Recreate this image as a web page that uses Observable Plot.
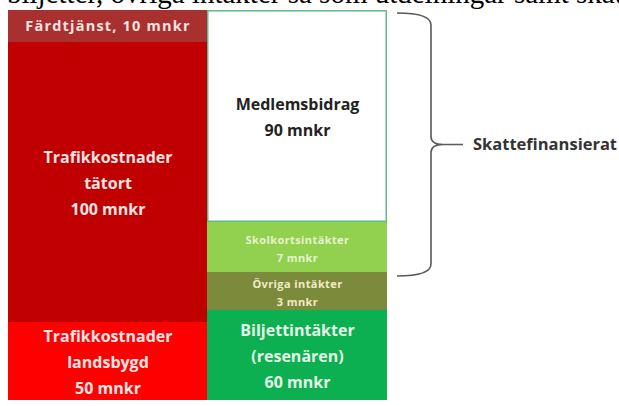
<!DOCTYPE html>
<html>
<head>
<meta charset="utf-8">
<script src="https://cdn.jsdelivr.net/npm/d3@7"></script>
<script src="https://cdn.jsdelivr.net/npm/@observablehq/plot@0.6"></script>
<style>
  html, body { margin: 0; padding: 0; background: #fff; }
  #chart { width: 619px; height: 406px; overflow: hidden; }
</style>
</head>
<body>
<div id="chart"></div>
<script>
// ---- data ----
const costCategories = ["Färdtjänst", "Trafikkostnader tätort", "Trafikkostnader landsbygd"];
const costValues = [10, 100, 50];
const costLabels = ["Färdtjänst, 10 mnkr", "Trafikkostnader\ntätort\n100 mnkr", "Trafikkostnader\nlandsbygd\n50 mnkr"];
const costColors = ["#a8312f", "#c00000", "#ff0000"];

const incomeCategories = ["Medlemsbidrag", "Skolkortsintäkter", "Övriga intäkter", "Biljettintäkter (resenären)"];
const incomeValues = [90, 7, 3, 60];
const incomeLabels = ["Medlemsbidrag\n90 mnkr", "Skolkortsintäkter\n7 mnkr", "Övriga intäkter\n3 mnkr", "Biljettintäkter\n(resenären)\n60 mnkr"];
const incomeColors = ["#ffffff", "#92d050", "#7c8a3c", "#0db050"];

const taxFinanced = ["Medlemsbidrag", "Skolkortsintäkter"];
const braceLabel = "Skattefinansierat";
const topText = "biljetter, övriga intäkter så som utdelningar samt skattemedel";

// ---- scales (schematic, not to scale: piecewise y) ----
const yDomain = [0, 10, 90, 97, 100, 110, 160];
const yRange = [10, 42, 222, 272, 310, 322, 400];
const yHelper = d3.scaleLinear().domain(yDomain).range(yRange);
const pixelMid = d => yHelper.invert((yHelper(d.y1) + yHelper(d.y2)) / 2);

// ---- build stacked table ----
function stack(cats, vals, labels, colors, col, kind) {
  let acc = 0;
  return cats.map((c, i) => {
    const r = {category: c, value: vals[i], label: labels[i], color: colors[i], col, kind, y1: acc, y2: acc + vals[i]};
    acc += vals[i];
    return r;
  });
}
const rows = [
  ...stack(costCategories, costValues, costLabels, costColors, 0, "cost"),
  ...stack(incomeCategories, incomeValues, incomeLabels, incomeColors, 1, "income")
];
const small = new Set(["Skolkortsintäkter", "Övriga intäkter"]);
const bigRows = rows.filter(d => !small.has(d.category) && d.category !== "Färdtjänst");
const headRows = rows.filter(d => d.category === "Färdtjänst");
const smallRows = rows.filter(d => small.has(d.category));
const taxRows = rows.filter(d => taxFinanced.includes(d.category));
const taxTop = d3.min(taxRows, d => d.y1), taxBottom = d3.max(taxRows, d => d.y2);

const textColor = {
  "Färdtjänst": "#f3e2e2",
  "Trafikkostnader tätort": "#f6e4e4",
  "Trafikkostnader landsbygd": "#fbe6e6",
  "Medlemsbidrag": "#222222",
  "Skolkortsintäkter": "#e6f3cf",
  "Övriga intäkter": "#f1ecc6",
  "Biljettintäkter (resenären)": "#e4f6e8"
};

const font = "'Open Sans', Lato, sans-serif";

const spaced = (ls) => (index, scales, values, dims, context, next) => {
  const g = next(index, scales, values, dims, context);
  if (g) g.setAttribute("letter-spacing", ls);
  return g;
};

const brace = (index, scales, values, dims) => {
  const y1 = scales.y(taxTop) + 3, y2 = scales.y(taxBottom) + 4, ym = (y1 + y2) / 2;
  const x0 = scales.x(2) + 10, xv = x0 + 34, xt = xv + 32;
  const g = d3.create("svg:g");
  g.append("path")
    .attr("fill", "none").attr("stroke", "#5a5a5a").attr("stroke-width", 1.6)
    .attr("d", `M${x0},${y1} Q${xv},${y1} ${xv},${y1 + 12} L${xv},${ym - 8} Q${xv},${ym} ${xv + 12},${ym} L${xt},${ym}
               M${xv + 12},${ym} Q${xv},${ym} ${xv},${ym + 8} L${xv},${y2 - 12} Q${xv},${y2} ${x0},${y2}`);
  g.append("text")
    .attr("x", xt + 10).attr("y", ym).attr("dy", "0.35em").attr("text-anchor", "start")
    .attr("font-family", font).attr("font-weight", "bold").attr("font-size", 16.5)
    .attr("fill", "#333").text(braceLabel);
  return g.node();
};

const topLine = () => {
  const t = d3.create("svg:text")
    .attr("x", 7).attr("y", 3).attr("text-anchor", "start")
    .attr("font-family", "'Liberation Serif', 'Times New Roman', serif")
    .attr("font-size", 29).attr("fill", "#000").text(topText);
  return t.node();
};

const chart = Plot.plot({
  width: 619,
  height: 406,
  margin: 0,
  style: {background: "#fff", fontFamily: font},
  x: {type: "linear", domain: [0, 1, 2], range: [8, 207, 387], axis: null},
  y: {type: "linear", domain: yDomain, range: yRange, axis: null},
  marks: [
    Plot.rect(rows, {x1: "col", x2: d => d.col + 1, y1: "y1", y2: "y2", fill: "color"}),
    Plot.rect(rows.filter(d => d.category === "Medlemsbidrag"), {
      x1: "col", x2: d => d.col + 1, y1: "y1", y2: "y2", fill: "none",
      stroke: "#5dbb8c", strokeWidth: 1.5, inset: 0.75
    }),
    Plot.text(bigRows, {
      x: d => d.col + 0.5, y: pixelMid, text: "label",
      fill: d => textColor[d.category], fontWeight: "bold", fontSize: 16, lineHeight: 1.62, dy: -2
    }),
    Plot.text(headRows, {
      x: d => d.col + 0.5, y: pixelMid, text: "label",
      fill: d => textColor[d.category], fontWeight: "bold", fontSize: 14.5,
      render: spaced("1.2")
    }),
    Plot.text(smallRows, {
      x: d => d.col + 0.5, y: pixelMid, text: "label",
      fill: d => textColor[d.category], fontWeight: "bold", fontSize: 11, lineHeight: 1.65,
      render: spaced("0.4")
    }),
    topLine,
    brace
  ]
});
document.getElementById("chart").append(chart);
</script>
</body>
</html>
